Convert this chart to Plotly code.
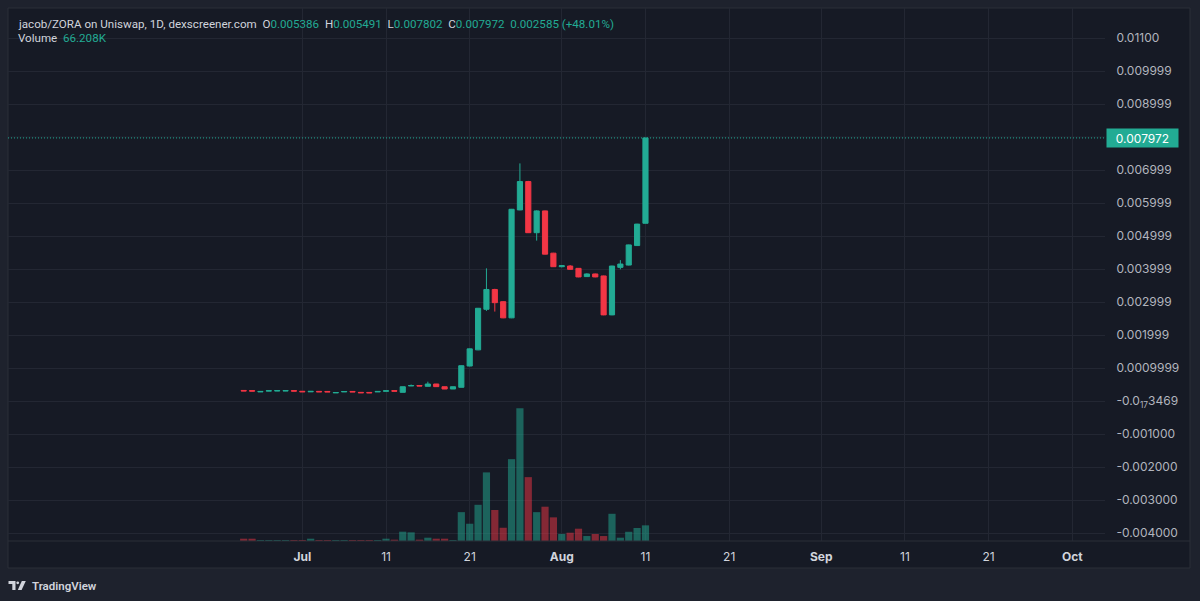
import plotly.graph_objects as go
import pandas as pd

# ---------------- data ----------------
dates = pd.date_range("2024-06-24", "2024-08-11", freq="D")

opens = [0.000320, 0.000315, 0.000275, 0.000300, 0.000303, 0.000303, 0.000315, 0.000295,
         0.000278, 0.000292, 0.000290, 0.000245, 0.000275, 0.000290, 0.000262, 0.000260,
         0.000275, 0.000295, 0.000315, 0.000263, 0.000455, 0.000470, 0.000445, 0.000515,
         0.000433, 0.000364, 0.000415, 0.00106, 0.00155, 0.00278, 0.00338, 0.00301,
         0.00252, 0.00579, 0.00665, 0.00510, 0.00576, 0.00448, 0.00407, 0.00409,
         0.00402, 0.00377, 0.00385, 0.00379, 0.00261, 0.00405, 0.00412, 0.00471, 0.005386]
closes = [0.000305, 0.000300, 0.000290, 0.000312, 0.000315, 0.000315, 0.000300, 0.000280,
          0.000292, 0.000278, 0.000276, 0.000258, 0.000288, 0.000276, 0.000250, 0.000248,
          0.000290, 0.000310, 0.000298, 0.000433, 0.000470, 0.000455, 0.000515, 0.000435,
          0.000364, 0.000433, 0.00107, 0.00158, 0.00281, 0.00338, 0.00298, 0.00252,
          0.00581, 0.00665, 0.00510, 0.00576, 0.00445, 0.00407, 0.00410, 0.00399,
          0.00376, 0.00385, 0.00376, 0.00261, 0.00409, 0.00415, 0.00473, 0.00536, 0.007972]
highs = [0.000322, 0.000317, 0.000292, 0.000314, 0.000317, 0.000317, 0.000317, 0.000297,
         0.000294, 0.000294, 0.000292, 0.000260, 0.000290, 0.000292, 0.000264, 0.000262,
         0.000292, 0.000312, 0.000317, 0.000436, 0.000500, 0.000472, 0.000585, 0.000518,
         0.000436, 0.000436, 0.00108, 0.00159, 0.00282, 0.00402, 0.00340, 0.00302,
         0.00582, 0.00720, 0.00667, 0.00578, 0.00577, 0.00449, 0.00412, 0.00412,
         0.00403, 0.00387, 0.00386, 0.00380, 0.00410, 0.00427, 0.00474, 0.00537, 0.007972]
lows = [0.000303, 0.000298, 0.000273, 0.000298, 0.000301, 0.000301, 0.000298, 0.000278,
        0.000276, 0.000276, 0.000274, 0.000243, 0.000273, 0.000274, 0.000248, 0.000246,
        0.000273, 0.000293, 0.000296, 0.000261, 0.000453, 0.000453, 0.000443, 0.000433,
        0.000362, 0.000362, 0.000413, 0.00105, 0.00154, 0.00273, 0.00271, 0.00251,
        0.00251, 0.00578, 0.00509, 0.00486, 0.00444, 0.00406, 0.00405, 0.00398,
        0.00375, 0.00376, 0.00375, 0.00260, 0.00260, 0.00399, 0.00411, 0.00470, 0.005380]
volumes = [9800, 9800, 4200, 4200, 4200, 4200, 4200, 4200, 9800, 4200, 4200, 4200, 4200,
           4200, 4200, 4200, 4200, 9800, 5600, 39400, 36600, 5600, 14000, 9800, 9800, 4200,
           122000, 73000, 153000, 290000, 131000, 56000, 346000, 561000, 270000, 122000,
           145000, 100000, 29500, 35000, 52000, 21000, 29500, 21000, 115000, 14000, 39000,
           55000, 66208]

x_tick_vals = ["2024-07-01", "2024-07-11", "2024-07-21", "2024-08-01", "2024-08-11",
               "2024-08-21", "2024-09-01", "2024-09-11", "2024-09-21", "2024-10-01"]
x_tick_text = ["<b>Jul</b>", "11", "21", "<b>Aug</b>", "11", "21", "<b>Sep</b>", "11", "21", "<b>Oct</b>"]

y_tick_vals = [0.011, 0.009999, 0.008999, 0.006999, 0.005999, 0.004999, 0.003999,
               0.002999, 0.001999, 0.0009999, -3.469e-19, -0.001, -0.002, -0.003, -0.004]
y_tick_text = ["0.01100", "0.009999", "0.008999", "0.006999", "0.005999", "0.004999",
               "0.003999", "0.002999", "0.001999", "0.0009999", "-0.0<sub>17</sub>3469",
               "-0.001000", "-0.002000", "-0.003000", "-0.004000"]

last_price = 0.007972

# ---------------- style ----------------
W, H = 1200, 601
PL, PR, PT, PB = 8, 1105, 8, 541  # plot box in pixels
UP = "#22ab94"
DOWN = "#f23645"
UP_VOL = "rgba(34,171,148,0.5)"
DOWN_VOL = "rgba(242,54,69,0.5)"
BG_OUT = "#1e222d"
BG_IN = "#161a25"
GRID = "#232733"
BORDER = "#2a2e39"
TXT = "#d1d4dc"
TXT2 = "#b2b5be"
FONT = "Inter"
HFONT = "Roboto"


def px_x(px):
    return (px - PL) / (PR - PL)


def px_y(py):
    return (PB - py) / (PB - PT)


vol_colors = [UP_VOL if c >= o else DOWN_VOL for o, c in zip(opens, closes)]

fig = go.Figure()
fig.add_trace(go.Bar(x=dates, y=volumes, marker=dict(color=vol_colors, line=dict(width=0)),
                     yaxis="y2", showlegend=False, hoverinfo="skip"))
fig.add_trace(go.Candlestick(
    x=dates, open=opens, high=highs, low=lows, close=closes,
    increasing=dict(line=dict(color=UP, width=1), fillcolor=UP),
    decreasing=dict(line=dict(color=DOWN, width=1), fillcolor=DOWN),
    whiskerwidth=0, showlegend=False))

fig.update_layout(
    width=W, height=H, autosize=False,
    margin=dict(l=PL, r=W - PR, t=PT, b=H - PB, pad=0),
    paper_bgcolor=BG_OUT, plot_bgcolor="rgba(0,0,0,0)",
    font=dict(family=FONT, size=12, color=TXT2),
    bargap=0.14, boxgap=0.12,
    xaxis=dict(type="date", range=["2024-05-26 20:10", "2024-10-04 21:36"],
               rangeslider=dict(visible=False),
               tickvals=x_tick_vals, ticktext=x_tick_text,
               showgrid=True, gridcolor=GRID, gridwidth=1, zeroline=False,
               showline=False, ticks="outside", ticklen=5, tickcolor="rgba(0,0,0,0)",
               tickfont=dict(family=FONT, size=12, color=TXT)),
    yaxis=dict(side="right", range=[-0.004242, 0.011909],
               tickvals=y_tick_vals, ticktext=y_tick_text,
               showgrid=True, gridcolor=GRID, gridwidth=1, zeroline=False,
               showline=False, ticks="outside", ticklen=8, tickcolor="rgba(0,0,0,0)",
               tickfont=dict(family=FONT, size=12, color=TXT2)),
    yaxis2=dict(overlaying="y", side="right", range=[0, 2253000], visible=False,
                showgrid=False, zeroline=False),
)

shapes = [
    # inner dark frame
    dict(type="rect", xref="paper", yref="paper", x0=px_x(8), x1=px_x(1190),
         y0=px_y(568), y1=px_y(8), fillcolor=BG_IN, line=dict(color=BORDER, width=1),
         layer="below"),
    # hidden grid line under the last-price line
    dict(type="line", xref="paper", yref="y", x0=0, x1=1, y0=0.007999, y1=0.007999,
         line=dict(color=GRID, width=1), layer="below"),
    # time axis separator
    dict(type="line", xref="paper", yref="paper", x0=px_x(8), x1=px_x(1190),
         y0=0, y1=0, line=dict(color=BORDER, width=1), layer="above"),
    # last price dotted line
    dict(type="line", xref="paper", yref="y", x0=0, x1=1, y0=last_price, y1=last_price,
         line=dict(color=UP, width=1, dash="1px,2px"), layer="above"),
    # TradingView logo
    dict(type="path", xref="paper", yref="paper",
         path=(f"M {px_x(8.5)},{px_y(581)} L {px_x(15.5)},{px_y(581)} L {px_x(15.5)},{px_y(590)} "
               f"L {px_x(12.3)},{px_y(590)} L {px_x(12.3)},{px_y(584)} L {px_x(8.5)},{px_y(584)} Z"),
         fillcolor=TXT, line=dict(width=0)),
    dict(type="circle", xref="paper", yref="paper", x0=px_x(16.3), x1=px_x(19.1),
         y0=px_y(584.2), y1=px_y(581.4), fillcolor=TXT, line=dict(width=0)),
    dict(type="path", xref="paper", yref="paper",
         path=(f"M {px_x(21.8)},{px_y(581)} L {px_x(25.8)},{px_y(581)} L {px_x(21.6)},{px_y(590)} "
               f"L {px_x(17.8)},{px_y(590)} Z"),
         fillcolor=TXT, line=dict(width=0)),
]
fig.update_layout(shapes=shapes)

G = f"color:{UP}"
NB = "\u00a0"
header = (f"jacob/ZORA on Uniswap, 1D, dexscreener.com{NB}{NB}"
          f"O<span style='{G}'>0.005386</span>{NB}{NB}"
          f"H<span style='{G}'>0.005491</span>{NB}{NB}"
          f"L<span style='{G}'>0.007802</span>{NB}{NB}"
          f"C<span style='{G}'>0.007972</span>{NB}{NB}"
          f"<span style='{G}'>0.002585 (+48.01%)</span>")

annotations = [
    dict(xref="paper", yref="paper", x=px_x(16), y=px_y(23.5), xanchor="left", yanchor="middle",
         text=header, showarrow=False, font=dict(family=HFONT, size=11.6, color=TXT)),
    dict(xref="paper", yref="paper", x=px_x(16), y=px_y(38), xanchor="left", yanchor="middle",
         text=f"Volume{NB}{NB}<span style='{G}'>66.208K</span>", showarrow=False,
         font=dict(family=HFONT, size=11.6, color=TXT)),
    dict(xref="paper", yref="y", x=1, y=last_price, xanchor="left", yanchor="middle",
         xshift=1, text="0.007972", showarrow=False, bgcolor=UP, borderpad=2,
         width=67, height=14, align="center",
         font=dict(family=FONT, size=12, color="#ffffff")),
    dict(xref="paper", yref="paper", x=px_x(30), y=px_y(586), xanchor="left", yanchor="middle",
         text="TradingView", showarrow=False,
         font=dict(family=HFONT, size=11.5, color=TXT, weight=600)),
]
fig.update_layout(annotations=annotations)

fig.write_html("out.html")
